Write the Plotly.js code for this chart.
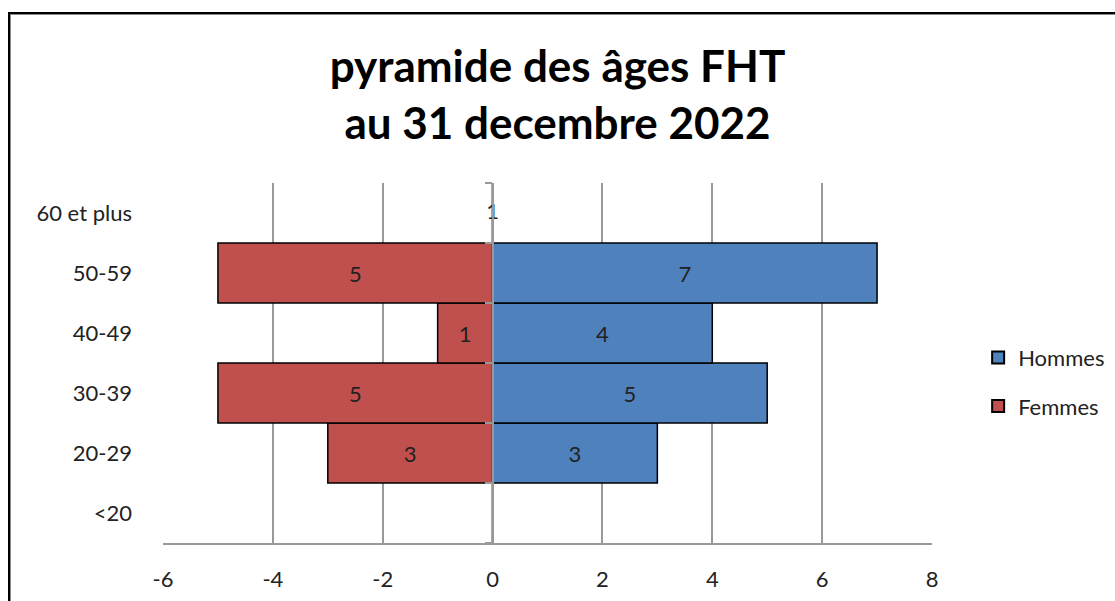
<!DOCTYPE html>
<html>
<head>
<meta charset="utf-8">
<script src="https://cdn.plot.ly/plotly-3.0.1.min.js"></script>
<style>
  html, body { margin: 0; padding: 0; background: #fff; }
  #wrap { position: relative; width: 1115px; height: 601px; overflow: hidden; }
  #chart { position: absolute; left: 0; top: 0; width: 1115px; height: 601px; }
  #frame { position: absolute; left: 8px; top: 12px; width: 1200px; height: 700px;
           border-left: 2px solid #000; border-top: 2px solid #000;
           box-shadow: 1px 1px 0 #888 inset; pointer-events: none; }
</style>
</head>
<body>
<div id="wrap">
  <div id="chart"></div>
  <div id="frame"></div>
</div>
<script>
// Data
const categories = ["<20", "20-29", "30-39", "40-49", "50-59", "60 et plus"];
const hommes = [0, 3, 5, 4, 7, 0];
const femmes = [0, 3, 5, 1, 5, 0];
const extraLabelCategory = ["60 et plus"];
const extraLabelValue = [1];
const xTicks = [-6, -4, -2, 0, 2, 4, 6, 8];

const font = "Lato, 'Open Sans', sans-serif";
const labelText = arr => arr.map(v => v === 0 ? "" : String(v));

const traces = [
  {
    type: "bar", orientation: "h", name: "Hommes", legendgroup: "h",
    y: categories, x: hommes,
    marker: { color: "#4F81BD", line: { color: "#000", width: 1.5 } },
    text: labelText(hommes), textposition: "inside", insidetextanchor: "middle",
    textfont: { family: font, size: 22, color: "#222" }, hoverinfo: "skip"
  },
  {
    type: "bar", orientation: "h", name: "Femmes", legendgroup: "f",
    y: categories, x: femmes.map(v => -v),
    marker: { color: "#C0504D", line: { color: "#000", width: 1.5 } },
    text: labelText(femmes), textposition: "inside", insidetextanchor: "middle",
    textfont: { family: font, size: 22, color: "#222" }, hoverinfo: "skip"
  },
  {
    type: "scatter", mode: "text", showlegend: false,
    y: extraLabelCategory, x: extraLabelCategory.map(() => 0),
    text: extraLabelValue.map(String), textposition: "middle center",
    textfont: { family: font, size: 22, color: "#222" }, hoverinfo: "skip"
  }
];

// geometry of plot area
const L = 163, R = 183, T = 183, B = 58;
const zeroFrac = (0 - (-6)) / (8 - (-6));

const layout = {
  width: 1115, height: 601,
  margin: { l: L, r: R, t: T, b: B, pad: 0, autoexpand: false },
  paper_bgcolor: "#fff", plot_bgcolor: "#fff",
  barmode: "relative", bargap: 0,
  showlegend: true,
  legend: {
    x: 1.06, y: 0.447, xanchor: "left", yanchor: "middle",
    font: { family: font, size: 22, color: "#222" },
    traceorder: "grouped", tracegroupgap: 17, itemsizing: "constant",
    bgcolor: "rgba(0,0,0,0)"
  },
  title: {
    text: "<b>pyramide des âges FHT<br>au 31 decembre 2022</b>",
    font: { family: font, size: 44, color: "#000" },
    x: 0.5, xanchor: "center", y: 0.864, yanchor: "middle", yref: "container"
  },
  xaxis: {
    range: [-6, 8], tickvals: xTicks, ticktext: xTicks.map(String),
    showgrid: true, gridcolor: "#999", gridwidth: 2,
    zeroline: false, showline: true, linecolor: "#999", linewidth: 2,
    ticks: "", tickfont: { family: font, size: 22, color: "#222" },
    ticklabelstandoff: 16, fixedrange: true
  },
  yaxis: {
    type: "category", categoryorder: "array", categoryarray: categories,
    range: [-0.5, 5.5], showgrid: false, zeroline: false, showline: false,
    ticks: "", tickfont: { family: font, size: 22, color: "#222" },
    ticklabelstandoff: 30, fixedrange: true
  },
  yaxis2: {
    overlaying: "y", anchor: "free", position: zeroFrac, side: "left",
    range: [-0.5, 5.5], tickvals: [-0.5, 0.5, 1.5, 2.5, 3.5, 4.5, 5.5],
    showticklabels: false, ticks: "outside", ticklen: 7, tickwidth: 2, tickcolor: "#999",
    showline: true, linecolor: "#999", linewidth: 2,
    showgrid: false, zeroline: false, fixedrange: true
  }
};

// invisible trace to activate yaxis2
traces.push({ type: "scatter", mode: "none", x: [0], y: [0], yaxis: "y2", showlegend: false, hoverinfo: "skip" });

Plotly.newPlot("chart", traces, layout, { displayModeBar: false, staticPlot: true });
</script>
</body>
</html>
